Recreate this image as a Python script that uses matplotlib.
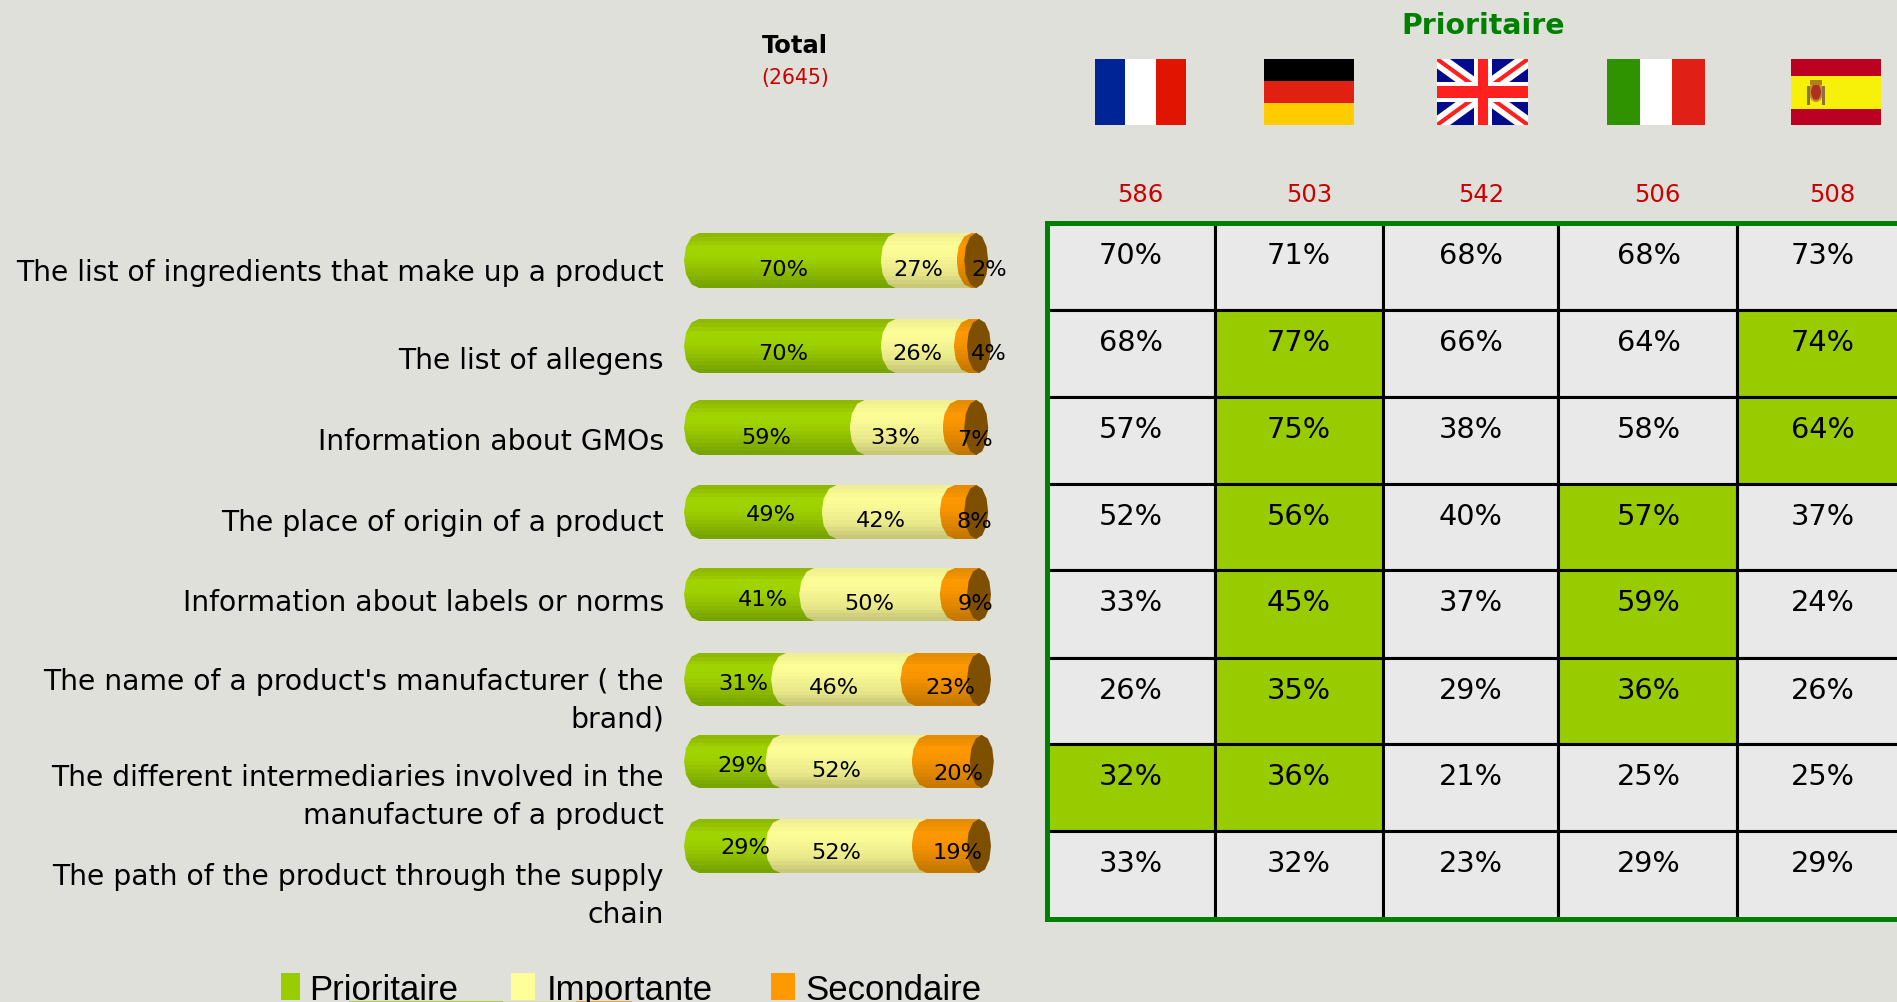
import numpy as np
import matplotlib
matplotlib.use('Agg')
import matplotlib.pyplot as plt
from matplotlib.patches import Rectangle, Ellipse, PathPatch, Polygon
from matplotlib.path import Path
from matplotlib.colors import LinearSegmentedColormap

W, H = 1897, 1003
BG = '#dfe0da'

# data
questions = ["The list of ingredients that make up a product",
             "The list of allegens",
             "Information about GMOs",
             "The place of origin of a product",
             "Information about labels or norms",
             "The name of a product's manufacturer ( the\nbrand)",
             "The different intermediaries involved in the\nmanufacture of a product",
             "The path of the product through the supply\nchain"]
prioritaire = [70, 70, 59, 49, 41, 31, 29, 29]
importante = [27, 26, 33, 42, 50, 46, 52, 52]
secondaire = [2, 4, 7, 8, 9, 23, 20, 19]
countries = ['France', 'Germany', 'UK', 'Italy', 'Spain']
sample_sizes = [586, 503, 542, 506, 508]
total_n = 2645
france = [70, 68, 57, 52, 33, 26, 32, 33]
germany = [71, 77, 75, 56, 45, 35, 36, 32]
uk = [68, 66, 38, 40, 37, 29, 21, 23]
italy = [68, 64, 58, 57, 59, 36, 25, 29]
spain = [73, 74, 64, 37, 24, 26, 25, 29]
highlight_rows = [1, 1, 2, 2, 3, 3, 4, 4, 5, 5, 6, 6]
highlight_cols = [1, 4, 1, 4, 1, 3, 1, 3, 1, 3, 0, 1]
legend_names = ['Prioritaire', 'Importante', 'Secondaire']

# layout (pixels of the 1897x1003 picture)
bar_top = [234, 320, 401, 486, 569, 654, 736, 820]
bar_bottom = [289, 374, 456, 540, 622, 707, 789, 874]
label1_x = [783, 783, 766, 771, 763, 743, 742, 745]
label2_x = [918, 917, 895, 881, 869, 834, 836, 836]
label3_x = [989, 989, 975, 974, 975, 950, 958, 958]
label1_y = [270, 354, 438, 515, 600, 684, 766, 848]
label2_y = [270, 354, 438, 521, 604, 688, 771, 853]
label3_y = [270, 354, 440, 522, 604, 688, 774, 853]
question_y = [273, 361, 442, 523, 603, 701, 797, 896]
col_edges = [1047, 1215, 1383, 1558, 1737, 1905]
col_text_x = [1131, 1299, 1471, 1649, 1823]
row_edges = [224, 311, 398, 485, 571, 659, 745, 832, 920]
size_x = [1140, 1309, 1481, 1657, 1832]
PX_PER_PCT = 2.81
BAR_LEFT = 684

fig = plt.figure(figsize=(W / 100, H / 100), dpi=100, facecolor=BG)
ax = fig.add_axes([0, 0, 1, 1])
ax.set_xlim(0, W)
ax.set_ylim(H, 0)
ax.axis('off')

# bars get their own axes, x in percent
pct_min, pct_max = -10, 130
bx = fig.add_axes([(BAR_LEFT + pct_min * PX_PER_PCT) / W, 0, (pct_max - pct_min) * PX_PER_PCT / W, 1])
bx.set_xlim(pct_min, pct_max)
bx.set_ylim(H, 0)
bx.axis('off')
bx.patch.set_alpha(0)

green_map = LinearSegmentedColormap.from_list('g', ['#8fb800', '#a2d600', '#9ccf00', '#8cba00', '#78a400'])
yellow_map = LinearSegmentedColormap.from_list('y', ['#f0f090', '#ffff99', '#f4f492', '#e8e88a', '#c8c878'])
orange_map = LinearSegmentedColormap.from_list('o', ['#e58c00', '#ff9900', '#f49200', '#dd8500', '#c47800'])
bands = np.linspace(0, 1, 14)[:, None]
RX = 15 / PX_PER_PCT
CAP_RX = 12 / PX_PER_PCT


def draw_segment(start, stop, top, bottom, cmap):
    # cylinder piece: rounded on the left, square on the right (next piece covers it)
    yc = (top + bottom) / 2
    ry = (bottom - top) / 2
    t = np.linspace(np.pi / 2, 3 * np.pi / 2, 7)
    xs = list(start + RX + RX * np.cos(t))
    ys = list(yc - ry * np.sin(t))
    xs += [stop + RX, stop + RX, xs[0]]
    ys += [bottom, top, top]
    clip = PathPatch(Path(np.column_stack([xs, ys])), transform=bx.transData, fc='none', ec='none')
    bx.add_patch(clip)
    im = bx.imshow(bands, cmap=cmap, extent=(start, stop + RX, bottom, top), aspect='auto',
                   interpolation='nearest', zorder=2)
    im.set_clip_path(clip)


for i in range(len(prioritaire)):
    a = prioritaire[i]
    b = a + importante[i]
    c = b + secondaire[i]
    draw_segment(0, a, bar_top[i], bar_bottom[i], green_map)
    draw_segment(a, b, bar_top[i], bar_bottom[i], yellow_map)
    draw_segment(b, c, bar_top[i], bar_bottom[i], orange_map)
    # end of the cylinder, low poly like the original
    t = np.linspace(0, 2 * np.pi, 13)[:-1]
    cx = c + 14 / PX_PER_PCT
    yc = (bar_top[i] + bar_bottom[i]) / 2
    ry = (bar_bottom[i] - bar_top[i]) / 2
    bx.add_patch(Polygon(np.column_stack([cx + CAP_RX * np.cos(t), yc + ry * np.sin(t)]),
                         fc='#7f4f00', ec='none', zorder=3))
    ax_kw = dict(ha='center', va='center', fontsize=16.2, color='black', zorder=6)
    fig.text(label1_x[i] / W, 1 - label1_y[i] / H, '%d%%' % prioritaire[i], **ax_kw)
    fig.text(label2_x[i] / W, 1 - label2_y[i] / H, '%d%%' % importante[i], **ax_kw)
    fig.text(label3_x[i] / W, 1 - label3_y[i] / H, '%d%%' % secondaire[i], **ax_kw)

bx.set_xlim(pct_min, pct_max)
bx.set_ylim(H, 0)

# questions
for q, y in zip(questions, question_y):
    ax.text(664, y, q, ha='right', va='center', fontsize=20.3, color='black', linespacing=1.43)

# header
ax.text(795, 46, 'Total', ha='center', va='center', fontsize=17.5, fontweight='bold', color='black')
ax.text(795, 78, '(%d)' % total_n, ha='center', va='center', fontsize=14.8, color='#cc0000')
ax.text(1483, 26, 'Prioritaire', ha='center', va='center', fontsize=20.4, fontweight='bold', color='#008000')
for x, n in zip(size_x, sample_sizes):
    ax.text(x, 195, str(n), ha='center', va='center', fontsize=17.5, color='#cc0000')


# flags
def bars_h(x0, x1, y0, y1, colors, shares):
    y = y0
    for col, s in zip(colors, shares):
        ax.add_patch(Rectangle((x0, y), x1 - x0, (y1 - y0) * s, fc=col, ec='none'))
        y += (y1 - y0) * s


def bars_v(x0, x1, y0, y1, colors):
    w = (x1 - x0) / len(colors)
    for k, col in enumerate(colors):
        ax.add_patch(Rectangle((x0 + k * w, y0), w, y1 - y0, fc=col, ec='none'))


FY0, FY1 = 60, 126
bars_v(1095, 1186, FY0, FY1, ['#002395', '#ffffff', '#e01400'])
bars_h(1264, 1354, FY0, FY1, ['#000000', '#e02010', '#ffcc00'], [1 / 3, 1 / 3, 1 / 3])
bars_v(1607, 1705, FY0, FY1, ['#2f9300', '#ffffff', '#e02016'])
bars_h(1791, 1881, FY0, FY1, ['#bb0022', '#f7f10a', '#bb0022'], [0.25, 0.5, 0.25])
# Spanish crest, just a few blobs at this size
ax.add_patch(Ellipse((1816, 93), 12, 18, fc='#b03020', ec='#c09030', lw=1.5))
ax.add_patch(Rectangle((1810, 81), 12, 5, fc='#b08020', ec='none'))
ax.add_patch(Rectangle((1807, 87), 3, 19, fc='#907040', ec='none'))
ax.add_patch(Rectangle((1822, 87), 3, 19, fc='#907040', ec='none'))

ux0, ux1 = 1437, 1528
flag_box = Rectangle((ux0, FY0), ux1 - ux0, FY1 - FY0, fc='#000a8c', ec='none')
ax.add_patch(flag_box)
for x0, x1 in [(ux0, ux1), (ux1, ux0)]:
    line, = ax.plot([x0, x1], [FY0, FY1], color='white', lw=11, solid_capstyle='butt', zorder=1.2)
    line.set_clip_path(flag_box)
    line, = ax.plot([x0, x1], [FY0, FY1], color='#ff2020', lw=3, solid_capstyle='butt', zorder=1.3)
    line.set_clip_path(flag_box)
ucx, ucy = (ux0 + ux1) / 2, (FY0 + FY1) / 2
ax.add_patch(Rectangle((ux0, ucy - 10), ux1 - ux0, 20, fc='white', ec='none', zorder=1.5))
ax.add_patch(Rectangle((ucx - 9, FY0), 18, FY1 - FY0, fc='white', ec='none', zorder=1.5))
ax.add_patch(Rectangle((ux0, ucy - 6), ux1 - ux0, 12, fc='#ff2020', ec='none', zorder=1.6))
ax.add_patch(Rectangle((ucx - 5, FY0), 10, FY1 - FY0, fc='#ff2020', ec='none', zorder=1.6))

# table
table = [france, germany, uk, italy, spain]
highlighted = set(zip(highlight_rows, highlight_cols))
for c, col in enumerate(table):
    for r, val in enumerate(col):
        fc = '#99cc00' if (r, c) in highlighted else '#e9e9e9'
        ax.add_patch(Rectangle((col_edges[c], row_edges[r]), col_edges[c + 1] - col_edges[c],
                               row_edges[r + 1] - row_edges[r], fc=fc, ec='black', lw=2.2))
        ax.text(col_text_x[c], row_edges[r] + 32, '%d%%' % val, ha='center', va='center',
                fontsize=20.7, color='black')
ax.plot([W + 5, col_edges[0], col_edges[0], W + 5],
        [row_edges[0], row_edges[0], row_edges[-1], row_edges[-1]],
        color='#008000', lw=3.6, solid_joinstyle='miter')

# legend
legend_colors = ['#99cc00', '#ffff99', '#ff9900']
legend_box_x = [(281, 300), (511, 535), (771, 795)]
legend_text_x = [309, 547, 805]
for name, col, (x0, x1), tx in zip(legend_names, legend_colors, legend_box_x, legend_text_x):
    ax.add_patch(Rectangle((x0, 974), x1 - x0, 27, fc=col, ec='none'))
    ax.text(tx, 1000, name, ha='left', va='baseline', fontsize=25,
            family='Liberation Sans', color='black')

# top of a second, cropped legend-like strip at the very bottom of the picture
for x0, x1, col in [(349, 503, '#a8c84a'), (503, 576, '#dcdca0'), (576, 632, '#e8a040')]:
    ax.add_patch(Rectangle((x0, 1002), x1 - x0, 1, fc=col, ec='none'))

fig.savefig('out.png', dpi=100, facecolor=BG)
